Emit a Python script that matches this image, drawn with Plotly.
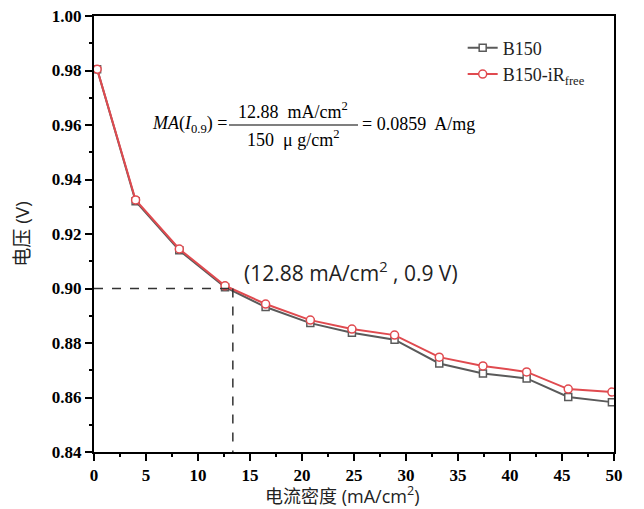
import plotly.graph_objects as go

# Data
current_density = [0.3, 4.0, 8.2, 12.6, 16.5, 20.8, 24.8, 28.9, 33.2, 37.4, 41.6, 45.6, 49.8]
v_b150 = [0.9805, 0.9320, 0.9140, 0.9005, 0.8932, 0.8873, 0.8838, 0.8812, 0.8725, 0.8688, 0.8670, 0.8602, 0.8583]
v_b150_irfree = [0.9805, 0.9325, 0.9145, 0.9010, 0.8943, 0.8884, 0.8851, 0.8829, 0.8748, 0.8716, 0.8694, 0.8631, 0.8620]
guide_x = 13.35   # 12.88 mA/cm^2 marker as drawn
guide_y = 0.90

x_ticks = [0, 5, 10, 15, 20, 25, 30, 35, 40, 45, 50]
y_ticks = [0.84, 0.86, 0.88, 0.90, 0.92, 0.94, 0.96, 0.98, 1.00]

serif = "Liberation Serif, Times New Roman, serif"
sans = "Open Sans, Noto Sans CJK SC, sans-serif"

fig = go.Figure()
fig.add_trace(go.Scatter(
    x=current_density, y=v_b150, name="B150", mode="lines+markers",
    line=dict(color="#5a5a5a", width=2),
    marker=dict(symbol="square", size=7, color="white", line=dict(color="#5a5a5a", width=1.5)),
))
fig.add_trace(go.Scatter(
    x=current_density, y=v_b150_irfree, name="B150-iR<sub>free</sub>", mode="lines+markers",
    line=dict(color="#e04a4f", width=2),
    marker=dict(symbol="circle", size=8, color="white", line=dict(color="#e04a4f", width=1.5)),
))

# dashed guide lines
fig.add_trace(go.Scatter(x=[0, guide_x], y=[guide_y, guide_y], mode="lines", showlegend=False,
                         line=dict(color="#333", width=1.5, dash="dash"), hoverinfo="skip"))
fig.add_trace(go.Scatter(x=[guide_x, guide_x], y=[guide_y, 0.84], mode="lines", showlegend=False,
                         line=dict(color="#333", width=1.5, dash="dash"), hoverinfo="skip"))

axis_common = dict(
    showline=True, linecolor="black", linewidth=2, mirror=True,
    ticks="outside", ticklen=7, tickwidth=2, tickcolor="black",
    showgrid=False, zeroline=False, automargin=False, ticklabeloverflow="allow",
    tickfont=dict(family=serif, size=17, color="black", weight="bold"),
)
fig.update_xaxes(range=[0, 50], tickvals=x_ticks, ticktext=[str(v) for v in x_ticks],
                 minor=dict(dtick=2.5, ticks="outside", ticklen=3, tickwidth=2, tickcolor="black"),
                 **axis_common)
fig.update_yaxes(range=[0.84, 1.00], tickvals=y_ticks, ticktext=[f"{v:.2f}" for v in y_ticks],
                 minor=dict(dtick=0.01, ticks="outside", ticklen=3, tickwidth=2, tickcolor="black"),
                 title=dict(text="电压 (V)", font=dict(family=sans, size=19, color="#222"), standoff=17),
                 **axis_common)

fs = 18
ann = []
# x-axis title (placed as an annotation for exact vertical position)
ann.append(dict(xref="paper", yref="paper", x=(342 - 94) / 520, y=-(494 - 451) / 436,
                xanchor="center", yanchor="middle", showarrow=False,
                text="电流密度 (mA/cm<sup>2</sup>)", font=dict(family=sans, size=18, color="#222")))
ann.append(dict(xref="paper", yref="paper", x=(229 - 94) / 520, y=1 - (123 - 15) / 436,
                xanchor="right", yanchor="middle", showarrow=False,
                text="<i>MA</i>(<i>I</i><sub>0.9</sub>) =", font=dict(family=serif, size=fs, color="black")))
ann.append(dict(xref="paper", yref="paper", x=(293 - 94) / 520, y=1 - (110 - 15) / 436,
                xanchor="center", yanchor="middle", showarrow=False,
                text="12.88  mA/cm<sup>2</sup>", font=dict(family=serif, size=fs, color="black")))
ann.append(dict(xref="paper", yref="paper", x=(293 - 94) / 520, y=1 - (138 - 15) / 436,
                xanchor="center", yanchor="middle", showarrow=False,
                text="150  μ g/cm<sup>2</sup>", font=dict(family=serif, size=fs, color="black")))
ann.append(dict(xref="paper", yref="paper", x=(360 - 94) / 520, y=1 - (123 - 15) / 436,
                xanchor="left", yanchor="middle", showarrow=False,
                text="= 0.0859  A/mg", font=dict(family=serif, size=fs, color="black")))
ann.append(dict(xref="paper", yref="paper", x=(351 - 94) / 520, y=1 - (270 - 15) / 436,
                xanchor="center", yanchor="middle", showarrow=False,
                text="(12.88 mA/cm<sup>2</sup> , 0.9 V)", font=dict(family=sans, size=21, color="#222")))

fig.add_shape(type="line", xref="paper", yref="paper",
              x0=(229 - 94) / 520, x1=(358 - 94) / 520,
              y0=1 - (124 - 15) / 436, y1=1 - (124 - 15) / 436,
              line=dict(color="black", width=1.2))

# the page body adds an 8px offset, so the figure is sized to fit the window
fig.update_layout(
    width=636, height=501,
    margin=dict(l=86, r=30, t=8, b=57),
    paper_bgcolor="white", plot_bgcolor="white",
    annotations=ann,
    legend=dict(x=0.709, y=0.969, xanchor="left", yanchor="top",
                bgcolor="rgba(0,0,0,0)", borderwidth=0,
                font=dict(family=serif, size=18, color="#222"),
                tracegroupgap=0, itemwidth=30),
)

fig.write_html("out.html")
